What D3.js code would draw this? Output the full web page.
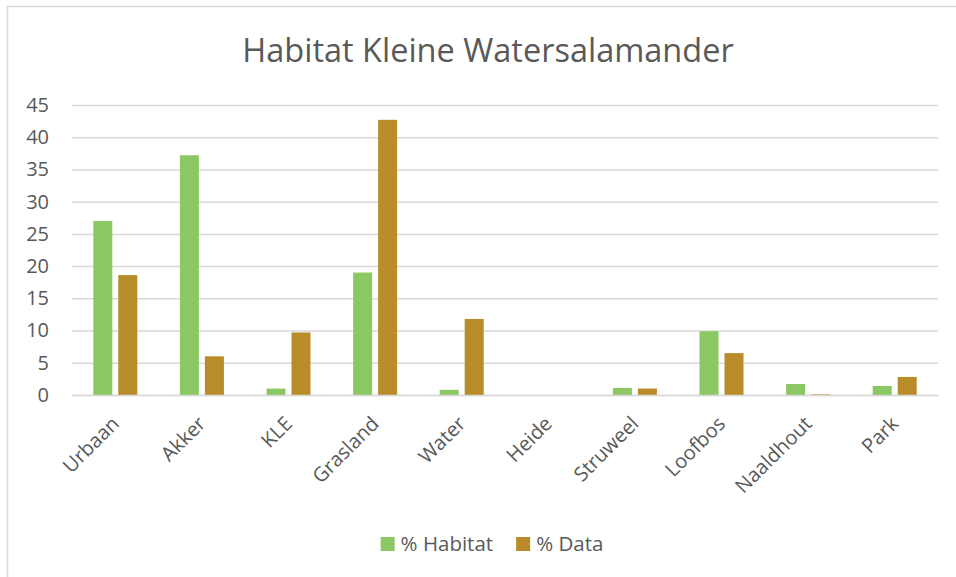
<!DOCTYPE html>
<html>
<head>
<meta charset="utf-8">
<script src="https://cdn.jsdelivr.net/npm/d3@7"></script>
<style>
  body { margin: 0; background: #fff; }
  text { font-family: "Open Sans", sans-serif; fill: #595959; }
</style>
</head>
<body>
<svg width="956" height="577"></svg>
<script>
// Data: share of habitat vs share of observations per land-use class
const categories = ["Urbaan", "Akker", "KLE", "Grasland", "Water", "Heide", "Struweel", "Loofbos", "Naaldhout", "Park"];
const habitat = [27.0, 37.2, 1.0, 19.0, 0.8, 0, 1.1, 9.9, 1.7, 1.4];
const dataPct = [18.6, 6.0, 9.7, 42.7, 11.8, 0, 1.0, 6.5, 0.1, 2.8];
const seriesNames = ["% Habitat", "% Data"];
const yTicks = [0, 5, 10, 15, 20, 25, 30, 35, 40, 45];

const svg = d3.select("svg"),
    margin = { top: 105, left: 72 },
    width = 866,
    height = 290,
    g = svg.append("g").attr("transform", `translate(${margin.left},${margin.top})`);

const color = d3.scaleOrdinal().domain(seriesNames).range(["#8bc763", "#b88c29"]);

// chart area border
svg.append("rect")
    .attr("x", 7.5).attr("y", 6.5)
    .attr("width", 962).attr("height", 590)
    .attr("fill", "none").attr("stroke", "#d9d9d9").attr("stroke-width", 1.5);

// title
svg.append("text")
    .attr("x", 488).attr("y", 62)
    .attr("text-anchor", "middle")
    .style("font-size", "32.5px")
    .text("Habitat Kleine Watersalamander");

const x0 = d3.scaleBand().domain(categories).range([0, width]);
const x1 = d3.scaleBand().domain(seriesNames).range([0, 44]).paddingInner(0.24);
const y = d3.scaleLinear().domain([0, 45]).range([height, 0]);

// gridlines + y labels
const yAxis = g.append("g")
    .call(d3.axisLeft(y).tickValues(yTicks).tickSize(-width).tickPadding(23));
yAxis.select(".domain").remove();
yAxis.selectAll("line").attr("stroke", "#d9d9d9").attr("stroke-width", 1.5);
yAxis.selectAll("text").style("font-size", "20px");

// bars
const rows = categories.map((c, i) => ({ cat: c, vals: [habitat[i], dataPct[i]] }));
const groups = g.selectAll(".grp").data(rows).join("g")
    .attr("transform", d => `translate(${x0(d.cat) + (x0.bandwidth() - 44) / 2},0)`);
groups.selectAll("rect")
    .data(d => d.vals.map((v, j) => ({ key: seriesNames[j], v })))
    .join("rect")
    .attr("x", d => x1(d.key))
    .attr("y", d => y(d.v))
    .attr("width", x1.bandwidth())
    .attr("height", d => height - y(d.v))
    .attr("fill", d => color(d.key));

// x axis
const xAxis = g.append("g")
    .attr("transform", `translate(0,${height})`)
    .call(d3.axisBottom(x0).tickSize(0));
xAxis.select(".domain").attr("stroke", "#d9d9d9").attr("stroke-width", 1.5);
xAxis.selectAll("text")
    .attr("x", 0).attr("y", 0).attr("dy", null)
    .style("text-anchor", "end")
    .style("font-size", "20px")
    .attr("transform", "translate(5,30) rotate(-45)");

// legend
const legend = svg.append("g");
let lx = 0;
seriesNames.forEach(s => {
    const item = legend.append("g").attr("transform", `translate(${lx},0)`);
    item.append("rect").attr("x", 0).attr("y", 537).attr("width", 14).attr("height", 14).attr("fill", color(s));
    const t = item.append("text").attr("x", 20).attr("y", 551).style("font-size", "20.5px").text(s);
    lx += 20 + t.node().getComputedTextLength() + 23;
});
const lw = lx - 23;
legend.attr("transform", `translate(${492 - lw / 2},0)`);
</script>
</body>
</html>
